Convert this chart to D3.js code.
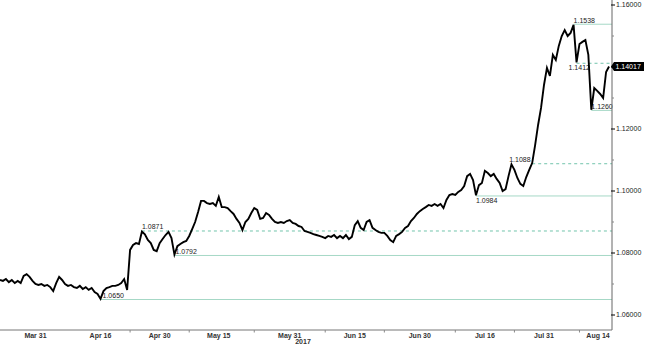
<!DOCTYPE html>
<html lang="en">
<head>
    <meta charset="UTF-8">
    <title>EURCHF</title>
    <script type="text/javascript" src="https://d3js.org/d3.v7.min.js"></script>
    <style>
        body { margin: 0; background: #fff; }
        text { font-family: "Liberation Sans", Arial, sans-serif; font-size: 7px; fill: #222; }
    </style>
</head>
<body>
    <div id="chart"></div>

    <script>
        // trading days start here, two closes per day (half-day bars)
        const startDate = "2017-03-23";

        const closes = [
            1.0713,1.0710,1.0716,1.0706,1.0713,1.0703,1.0710,1.0703,1.0726,1.0732,
            1.0723,1.0710,1.0700,1.0697,1.0700,1.0694,1.0697,1.0690,1.0677,1.0703,
            1.0723,1.0713,1.0700,1.0694,1.0697,1.0690,1.0687,1.0694,1.0684,1.0690,
            1.0681,1.0687,1.0674,1.0668,1.0652,1.0677,1.0687,1.0690,1.0694,1.0694,
            1.0697,1.0703,1.0716,1.0681,1.0810,1.0826,1.0832,1.0829,1.0869,1.0860,
            1.0842,1.0832,1.0810,1.0806,1.0832,1.0845,1.0858,1.0868,1.0848,1.0795,
            1.0822,1.0829,1.0835,1.0839,1.0855,1.0877,1.0900,1.0932,1.0968,1.0968,
            1.0961,1.0958,1.0961,1.0952,1.0981,1.0948,1.0948,1.0945,1.0935,1.0926,
            1.0910,1.0897,1.0874,1.0900,1.0910,1.0929,1.0945,1.0939,1.0910,1.0913,
            1.0929,1.0923,1.0910,1.0900,1.0897,1.0900,1.0897,1.0903,1.0906,1.0897,
            1.0894,1.0887,1.0884,1.0871,1.0868,1.0865,1.0861,1.0858,1.0855,1.0852,
            1.0848,1.0855,1.0852,1.0858,1.0848,1.0855,1.0848,1.0858,1.0845,1.0852,
            1.0890,1.0903,1.0881,1.0874,1.0900,1.0906,1.0881,1.0874,1.0868,1.0865,
            1.0865,1.0855,1.0842,1.0835,1.0855,1.0861,1.0868,1.0881,1.0887,1.0903,
            1.0913,1.0926,1.0935,1.0942,1.0948,1.0955,1.0952,1.0958,1.0952,1.0958,
            1.0945,1.0971,1.0987,1.0990,1.0987,1.0997,1.1003,1.1016,1.1048,1.1055,
            1.1035,1.0986,1.1019,1.1026,1.1065,1.1058,1.1048,1.1055,1.1039,1.1026,
            1.1000,1.1006,1.1048,1.1086,1.1068,1.1042,1.1023,1.1016,1.1045,1.1068,
            1.1090,1.1148,1.1213,1.1268,1.1342,1.1397,1.1371,1.1439,1.1423,1.1468,
            1.1500,1.1519,1.1500,1.1510,1.1536,1.1415,1.1474,1.1481,1.1487,1.1439,
            1.1262,1.1332,1.1323,1.1313,1.1300,1.1384,1.14017
        ];

        const tickLabels = ["Mar 31", "Apr 16", "Apr 30", "May 15", "May 31", "Jun 15", "Jun 30", "Jul 16", "Jul 31", "Aug 14"];
        const tickDates = ["2017-03-31", "2017-04-16", "2017-04-30", "2017-05-15", "2017-05-31",
                           "2017-06-15", "2017-06-30", "2017-07-16", "2017-07-31", "2017-08-14"];
        const minorTickDates = ["2017-04-24", "2017-05-08", "2017-05-23", "2017-06-08",
                                "2017-06-22", "2017-07-10", "2017-07-24", "2017-08-08"];
        const yearLabel = "2017";

        const yTicks = [1.06, 1.08, 1.10, 1.12, 1.14, 1.16];
        const yMinorTicks = [1.07, 1.09, 1.11, 1.13, 1.15];

        // support / resistance levels and the bar they start from
        const levelValues = [1.0650, 1.0792, 1.0871, 1.0984, 1.1088, 1.1412, 1.1538, 1.1260];
        const levelStartK = [34, 59, 48, 161, 180, 195, 194, 200];

        const lastPrice = 1.14017;

        // how each level is drawn: dashed or solid, label above/below, label shift
        const levelStyle = [
            { dashed: false, above: true,  shift: 2 },
            { dashed: false, above: true,  shift: 1 },
            { dashed: true,  above: true,  shift: 0 },
            { dashed: false, above: false, shift: 0 },
            { dashed: true,  above: true,  shift: -23 },
            { dashed: true,  above: false, shift: -8 },
            { dashed: false, above: true,  shift: 0 },
            { dashed: false, above: true,  shift: 0 }
        ];

        const width = 645, height = 353;
        const axisX = 612, axisY = 330;

        // trading day index of a date (weekends skipped, Sunday -> next Monday)
        function tradingIndex(s) {
            const d0 = new Date(startDate + "T00:00:00Z");
            const d1 = new Date(s + "T00:00:00Z");
            let n = 0;
            for (let d = new Date(d0); d < d1; d.setUTCDate(d.getUTCDate() + 1)) {
                const wd = d.getUTCDay();
                if (wd !== 0 && wd !== 6) n++;
            }
            return n;
        }

        const svg = d3.select("#chart").append("svg")
            .attr("width", width)
            .attr("height", height);

        const xScale = d3.scaleLinear()
            .domain([0, 103.5])
            .range([0, axisX]);

        const yScale = d3.scaleLinear()
            .domain([1.06, 1.16])
            .range([315, 5]);

        const kx = k => xScale(k * 0.5);

        // levels
        const lv = svg.append("g");
        levelValues.forEach((v, i) => {
            const st = levelStyle[i];
            const x0 = kx(levelStartK[i]);
            const y = yScale(v);
            lv.append("line")
                .attr("x1", x0).attr("x2", axisX)
                .attr("y1", y).attr("y2", y)
                .attr("stroke", st.dashed ? "#72c4ac" : "#a6d8c6")
                .attr("stroke-width", 1)
                .attr("stroke-dasharray", st.dashed ? "3,3" : null);
            lv.append("text")
                .attr("x", x0 + st.shift)
                .attr("y", st.above ? y - 1.5 : y + 7)
                .text(d3.format(".4f")(v));
        });

        // price line
        const line = d3.line()
            .x((d, k) => kx(k))
            .y(d => yScale(d));

        svg.append("path")
            .attr("d", line(closes))
            .attr("fill", "none")
            .attr("stroke", "#000")
            .attr("stroke-width", 1.9)
            .attr("stroke-linejoin", "miter");

        // right axis
        svg.append("line")
            .attr("x1", axisX).attr("x2", axisX)
            .attr("y1", 0).attr("y2", axisY)
            .attr("stroke", "#666");

        yTicks.forEach(v => {
            svg.append("line")
                .attr("x1", axisX - 1).attr("x2", axisX + 3)
                .attr("y1", yScale(v)).attr("y2", yScale(v))
                .attr("stroke", "#000");
            svg.append("text")
                .attr("x", axisX + 4)
                .attr("y", yScale(v))
                .attr("dy", "0.35em")
                .text(d3.format(".5f")(v));
        });
        yMinorTicks.forEach(v => {
            svg.append("line")
                .attr("x1", axisX).attr("x2", axisX + 2)
                .attr("y1", yScale(v)).attr("y2", yScale(v))
                .attr("stroke", "#888");
        });

        // last price tag
        const ly = yScale(lastPrice);
        svg.append("polygon")
            .attr("points", [[axisX - 1, ly], [axisX + 2, ly - 4.5], [644, ly - 4.5], [644, ly + 4.5], [axisX + 2, ly + 4.5]].join(" "))
            .attr("fill", "#000");
        svg.append("text")
            .attr("x", axisX + 3.5)
            .attr("y", ly)
            .attr("dy", "0.35em")
            .style("fill", "#fff")
            .text(d3.format(".5f")(lastPrice));

        // bottom axis
        svg.append("line")
            .attr("x1", 0).attr("x2", axisX)
            .attr("y1", axisY).attr("y2", axisY)
            .attr("stroke", "#777");

        minorTickDates.forEach(s => {
            const x = xScale(tradingIndex(s));
            svg.append("line")
                .attr("x1", x).attr("x2", x)
                .attr("y1", axisY).attr("y2", axisY + 2.5)
                .attr("stroke", "#888");
        });

        tickDates.forEach((s, i) => {
            const x = Math.min(xScale(tradingIndex(s)), 598);
            svg.append("text")
                .attr("x", x)
                .attr("y", axisY + 8)
                .attr("text-anchor", "middle")
                .style("font-weight", "bold")
                .style("fill", "#333")
                .text(tickLabels[i]);
        });

        svg.append("text")
            .attr("x", 303)
            .attr("y", axisY + 14)
            .attr("text-anchor", "middle")
            .style("font-weight", "bold")
            .style("fill", "#333")
            .text(yearLabel);
    </script>
</body>
</html>
